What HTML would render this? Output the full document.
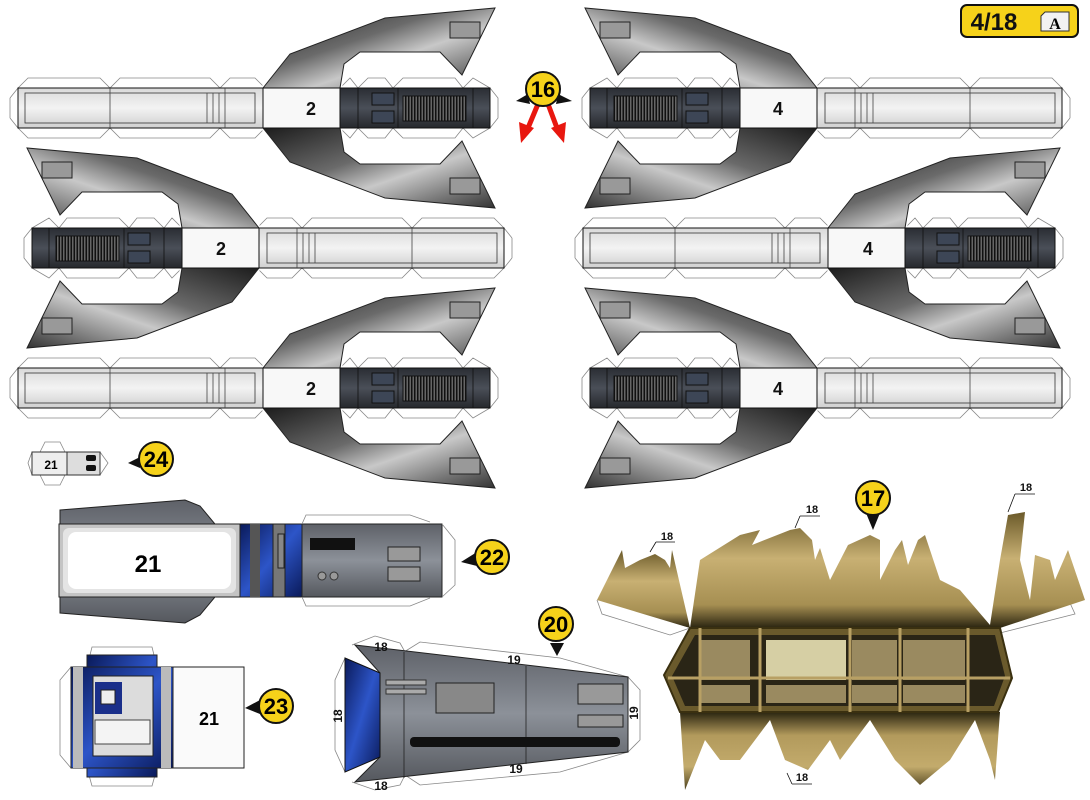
<!DOCTYPE html>
<html><head><meta charset="utf-8"><style>
html,body{margin:0;padding:0;background:#fff;}
svg{display:block;font-family:"Liberation Sans",sans-serif;}
</style></head><body>
<svg width="1090" height="800" viewBox="0 0 1090 800" xmlns="http://www.w3.org/2000/svg">
<defs>
<linearGradient id="bar" x1="0" y1="0" x2="0" y2="1">
<stop offset="0" stop-color="#d9d9d9"/><stop offset="0.5" stop-color="#f3f3f3"/><stop offset="1" stop-color="#cfcfcf"/></linearGradient>
<linearGradient id="arm" x1="0" y1="0" x2="1" y2="1">
<stop offset="0" stop-color="#1c1c1c"/><stop offset="0.4" stop-color="#6a6a6a"/><stop offset="0.6" stop-color="#c8c8c8"/><stop offset="1" stop-color="#333"/></linearGradient>
<linearGradient id="dark" x1="0" y1="0" x2="0" y2="1">
<stop offset="0" stop-color="#2a2d33"/><stop offset="0.5" stop-color="#4a4f58"/><stop offset="1" stop-color="#26282c"/></linearGradient>
<pattern id="grille" width="3" height="10" patternUnits="userSpaceOnUse"><rect width="3" height="10" fill="#666"/><rect width="1.5" height="10" fill="#111"/></pattern>
<linearGradient id="tan" x1="0" y1="0" x2="0" y2="1">
<stop offset="0" stop-color="#6b5a2a"/><stop offset="0.4" stop-color="#c8b073"/><stop offset="0.8" stop-color="#a68f52"/><stop offset="1" stop-color="#2a2410"/></linearGradient>
<linearGradient id="tan2" x1="0" y1="0" x2="0" y2="1">
<stop offset="0" stop-color="#2a2410"/><stop offset="0.3" stop-color="#b29a5c"/><stop offset="0.7" stop-color="#c3ab6c"/><stop offset="1" stop-color="#4a3f1c"/></linearGradient>
<linearGradient id="gray" x1="0" y1="0" x2="0" y2="1">
<stop offset="0" stop-color="#5e6168"/><stop offset="0.5" stop-color="#8c9199"/><stop offset="1" stop-color="#55585e"/></linearGradient>
<linearGradient id="blue" x1="0" y1="0" x2="1" y2="1">
<stop offset="0" stop-color="#0a1a5a"/><stop offset="0.5" stop-color="#2d55c8"/><stop offset="1" stop-color="#0a1a5a"/></linearGradient>

<g id="pA">
<path d="M10,98 L18,88 M10,118 L18,128 M10,98 L10,118 M18,88 L28,78 L100,78 L110,88 L120,78 L210,78 L220,88 L230,78 L255,78 L265,88 M18,128 L28,138 L100,138 L110,128 L120,138 L210,138 L220,128 L230,138 L255,138 L265,128 M340,88 L350,78 L358,88 L368,78 L385,78 L393,88 L403,78 L455,78 L463,88 L473,78 L490,88 M340,128 L350,138 L358,128 L368,138 L385,138 L393,128 L403,138 L455,138 L463,128 L473,138 L490,128 M490,88 L498,98 L498,118 L490,128" fill="none" stroke="#888" stroke-width="0.8"/>
<polygon points="263,88 290,54 385,18 495,8 462,75 440,52 360,52 344,64 340,88" fill="url(#arm)" stroke="#fff" stroke-width="4" stroke-linejoin="round"/>
<polygon points="263,88 290,54 385,18 495,8 462,75 440,52 360,52 344,64 340,88" fill="url(#arm)" stroke="#222" stroke-width="1"/>
<polygon points="263,128 290,162 385,198 495,208 462,141 440,164 360,164 344,152 340,128" fill="url(#arm)" stroke="#fff" stroke-width="4" stroke-linejoin="round"/>
<polygon points="263,128 290,162 385,198 495,208 462,141 440,164 360,164 344,152 340,128" fill="url(#arm)" stroke="#222" stroke-width="1"/>
<rect x="450" y="22" width="30" height="16" fill="#999" stroke="#222"/>
<rect x="450" y="178" width="30" height="16" fill="#999" stroke="#222"/>
<rect x="18" y="88" width="245" height="40" fill="url(#bar)" stroke="#111"/>
<rect x="25" y="93" width="230" height="30" fill="none" stroke="#333" stroke-width="0.8"/>
<path d="M110,88 V128 M207,93 V123 M213,93 V123 M219,93 V123 M225,88 V128" stroke="#444" stroke-width="0.8"/>
<rect x="263" y="88" width="77" height="40" fill="#f8f8f8" stroke="#111"/>
<rect x="340" y="88" width="150" height="40" fill="url(#dark)" stroke="#111"/>
<rect x="372" y="93" width="22" height="12" fill="#3d4656" stroke="#111"/>
<rect x="372" y="111" width="22" height="12" fill="#3d4656" stroke="#111"/>
<rect x="403" y="96" width="63" height="25" fill="url(#grille)" stroke="#111"/>
<path d="M358,88 V128 M398,88 V128 M473,88 V128" stroke="#111" stroke-width="0.8"/>
</g>

<g id="call">
<circle r="17" fill="#f6d21a" stroke="#111" stroke-width="2"/>
</g>
</defs>

<rect x="961" y="5" width="117" height="32" rx="6" fill="#f6d21a" stroke="#111" stroke-width="2"/>
<text x="994" y="30" font-size="24" font-weight="bold" text-anchor="middle" fill="#111">4/18</text>
<path d="M1045,12 h24 v19 h-28 v-15 z" fill="#f2f2f2" stroke="#333"/>
<text x="1055" y="29" font-size="16" font-family="Liberation Serif,serif" font-weight="bold" text-anchor="middle">A</text>

<use href="#pA"/>
<use href="#pA" transform="translate(0,280)"/>
<use href="#pA" transform="translate(522,140) scale(-1,1)"/>
<use href="#pA" transform="translate(1080,0) scale(-1,1)"/>
<use href="#pA" transform="translate(1080,280) scale(-1,1)"/>
<use href="#pA" transform="translate(565,140)"/>
<g font-size="18" font-weight="bold" text-anchor="middle" fill="#111">
<text x="311" y="115">2</text><text x="221" y="255">2</text><text x="311" y="395">2</text>
<text x="778" y="115">4</text><text x="868" y="255">4</text><text x="778" y="395">4</text>
</g>

<polygon points="528,94 516,101 530,104" fill="#111"/>
<polygon points="558,94 572,101 556,104" fill="#111"/>
<path d="M538,104 L528,128" stroke="#e8170f" stroke-width="5"/>
<polygon points="519,122 534,128 521,143" fill="#e8170f"/>
<path d="M548,104 L557,128" stroke="#e8170f" stroke-width="5"/>
<polygon points="566,122 551,128 564,143" fill="#e8170f"/>
<use href="#call" x="543" y="89"/>
<text x="543" y="97" font-size="22" font-weight="bold" text-anchor="middle">16</text>

<path d="M40,452 L45,442 L60,442 L65,452 M40,475 L45,485 L60,485 L65,475 M32,452 L28,463 L32,475 M100,452 L108,463 L100,475" fill="none" stroke="#888" stroke-width="0.8"/>
<rect x="32" y="452" width="35" height="23" fill="#eee" stroke="#333"/>
<rect x="67" y="452" width="33" height="23" fill="#ddd" stroke="#333"/>
<rect x="86" y="455" width="10" height="6" rx="2" fill="#111"/><rect x="86" y="465" width="10" height="6" rx="2" fill="#111"/>
<text x="51" y="469" font-size="12" font-weight="bold" text-anchor="middle">21</text>
<polygon points="140,457 128,463 140,468" fill="#111"/>
<use href="#call" x="156" y="459"/>
<text x="156" y="467" font-size="22" font-weight="bold" text-anchor="middle">24</text>

<polygon points="60,510 185,500 200,506 215,524 215,597 200,615 185,623 60,613" fill="url(#gray)" stroke="#222"/>
<rect x="59" y="524" width="181" height="73" fill="#c4c4c4" stroke="#222"/>
<rect x="63" y="528" width="173" height="65" rx="6" fill="#e4e4e4"/>
<rect x="68" y="532" width="163" height="57" rx="8" fill="#fff"/>
<text x="148" y="572" font-size="24" font-weight="bold" text-anchor="middle">21</text>
<rect x="240" y="524" width="62" height="73" fill="url(#blue)" stroke="#222"/>
<rect x="250" y="524" width="10" height="73" fill="#555"/><rect x="273" y="524" width="12" height="73" fill="#777" stroke="#222"/>
<rect x="278" y="534" width="6" height="34" fill="#888" stroke="#222"/>
<rect x="302" y="524" width="140" height="73" fill="url(#gray)" stroke="#222"/>
<rect x="310" y="538" width="45" height="12" fill="#111"/>
<rect x="388" y="547" width="32" height="14" fill="#999" stroke="#222"/>
<rect x="388" y="567" width="32" height="14" fill="#999" stroke="#222"/>
<circle cx="322" cy="576" r="4" fill="#999" stroke="#333"/><circle cx="334" cy="576" r="4" fill="#999" stroke="#333"/>
<path d="M302,524 L306,515 L410,515 L430,522 M302,597 L306,606 L410,606 L430,598 M442,524 L455,540 L455,585 L442,597" fill="none" stroke="#888" stroke-width="0.8"/>
<polygon points="477,552 461,562 477,566" fill="#111"/>
<use href="#call" x="492" y="557"/>
<text x="492" y="565" font-size="22" font-weight="bold" text-anchor="middle">22</text>

<path d="M87,667 L92,647 L152,647 L157,667 M87,768 L92,786 L152,786 L157,768 M71,667 L60,680 L60,755 L71,768 M172,667 L165,680 L165,755 L172,768" fill="none" stroke="#888" stroke-width="0.8"/>
<rect x="87" y="655" width="70" height="122" fill="url(#blue)" stroke="#222"/>
<rect x="71" y="667" width="102" height="101" fill="url(#blue)" stroke="#222"/>
<rect x="73" y="667" width="10" height="101" fill="#bbb"/><rect x="161" y="667" width="10" height="101" fill="#bbb"/>
<rect x="93" y="676" width="60" height="80" fill="#dcdcdc" stroke="#222"/>
<rect x="95" y="682" width="27" height="32" fill="#1a2f8a"/>
<rect x="101" y="690" width="14" height="14" fill="#eee" stroke="#222"/>
<rect x="95" y="720" width="55" height="24" fill="#f4f4f4" stroke="#444"/>
<rect x="173" y="667" width="71" height="101" fill="#fafafa" stroke="#222"/>
<text x="209" y="725" font-size="18" font-weight="bold" text-anchor="middle">21</text>
<polygon points="260,700 245,708 260,714" fill="#111"/>
<use href="#call" x="276" y="706"/>
<text x="276" y="714" font-size="22" font-weight="bold" text-anchor="middle">23</text>

<path d="M352,645 L375,636 L400,643 L405,652 M404,652 L420,642 L560,658 L628,677 L640,690 L640,740 L628,752 M405,775 L420,785 L560,772 L628,752 M352,782 L375,790 L400,785 L405,775 M345,658 L335,680 L335,750 L345,772" fill="none" stroke="#888" stroke-width="0.8"/>
<polygon points="355,645 628,677 628,752 355,782 380,757 380,673" fill="url(#gray)" stroke="#222"/>
<polygon points="345,658 380,673 380,757 345,772" fill="url(#blue)" stroke="#111"/>
<path d="M404,652 V778 M526,666 V764" stroke="#222" stroke-width="0.8"/>
<rect x="386" y="680" width="40" height="5" fill="#aaa" stroke="#333"/><rect x="386" y="689" width="40" height="5" fill="#aaa" stroke="#333"/>
<rect x="436" y="683" width="58" height="30" fill="#888" stroke="#222"/>
<rect x="578" y="684" width="45" height="20" fill="#999" stroke="#222"/>
<rect x="578" y="715" width="45" height="12" fill="#999" stroke="#222"/>
<rect x="410" y="737" width="210" height="10" rx="4" fill="#111"/>
<g font-size="12" font-weight="bold" text-anchor="middle" fill="#111">
<text x="381" y="651">18</text><text x="381" y="790">18</text><text x="514" y="664">19</text><text x="516" y="773">19</text>
<text transform="translate(342,716) rotate(-90)">18</text><text transform="translate(638,713) rotate(-90)">19</text>
</g>
<polygon points="550,643 564,643 557,656" fill="#111"/>
<use href="#call" x="556" y="624"/>
<text x="556" y="632" font-size="22" font-weight="bold" text-anchor="middle">20</text>

<path d="M597,600 L602,614 L670,635 L690,628 M1070,603 L1075,614 L1000,633 L985,624" fill="none" stroke="#888" stroke-width="0.8"/>
<polygon points="597,600 622,550 625,568 640,560 655,554 665,560 670,568 672,550 690,628" fill="url(#tan)"/>
<polygon points="690,628 700,560 740,535 760,530 752,545 790,530 800,528 812,540 815,560 820,548 830,580 848,545 870,535 880,540 880,580 895,550 902,540 908,565 918,540 925,535 940,580 960,590 990,625 1000,560 1008,515 1025,512 1020,560 1030,600 1035,555 1050,560 1055,580 1068,550 1085,600 1000,628" fill="url(#tan)"/>
<polygon points="680,712 1000,712 995,780 990,760 975,720 950,760 920,785 895,760 870,720 840,760 830,740 808,770 785,760 770,720 740,760 720,760 705,740 685,790" fill="url(#tan2)"/>
<polygon points="690,628 1000,628 1012,678 998,712 680,712 664,675" fill="#6a5a2c" stroke="#3a3010" stroke-width="2"/>
<polygon points="695,635 995,635 1005,676 994,706 685,706 672,676" fill="#2a2516"/>
<g fill="#9a8a60">
<rect x="700" y="640" width="50" height="40"/><rect x="766" y="640" width="80" height="40" fill="#d6cfa4"/><rect x="852" y="640" width="45" height="40"/><rect x="903" y="640" width="62" height="40"/>
<rect x="700" y="685" width="50" height="18"/><rect x="766" y="685" width="80" height="18"/><rect x="852" y="685" width="45" height="18"/><rect x="903" y="685" width="62" height="18"/>
</g>
<path d="M668,678 H1010 M700,628 V712 M760,628 V712 M850,628 V712 M900,628 V712 M968,628 V712" stroke="#b8a064" stroke-width="3"/>
<g font-size="11" font-weight="bold" text-anchor="middle" fill="#111">
<text x="667" y="540">18</text><text x="812" y="513">18</text><text x="1026" y="491">18</text><text x="802" y="781">18</text>
</g>
<path d="M656,542 L675,542 M656,542 L650,552 M800,516 L820,516 M800,516 L795,528 M1015,494 L1035,494 M1015,494 L1008,512 M792,784 L812,784 M792,784 L787,773" stroke="#111" stroke-width="0.8"/>
<polygon points="866,513 880,513 873,530" fill="#111"/>
<use href="#call" x="873" y="498"/>
<text x="873" y="506" font-size="22" font-weight="bold" text-anchor="middle">17</text>
</svg>
</body></html>
